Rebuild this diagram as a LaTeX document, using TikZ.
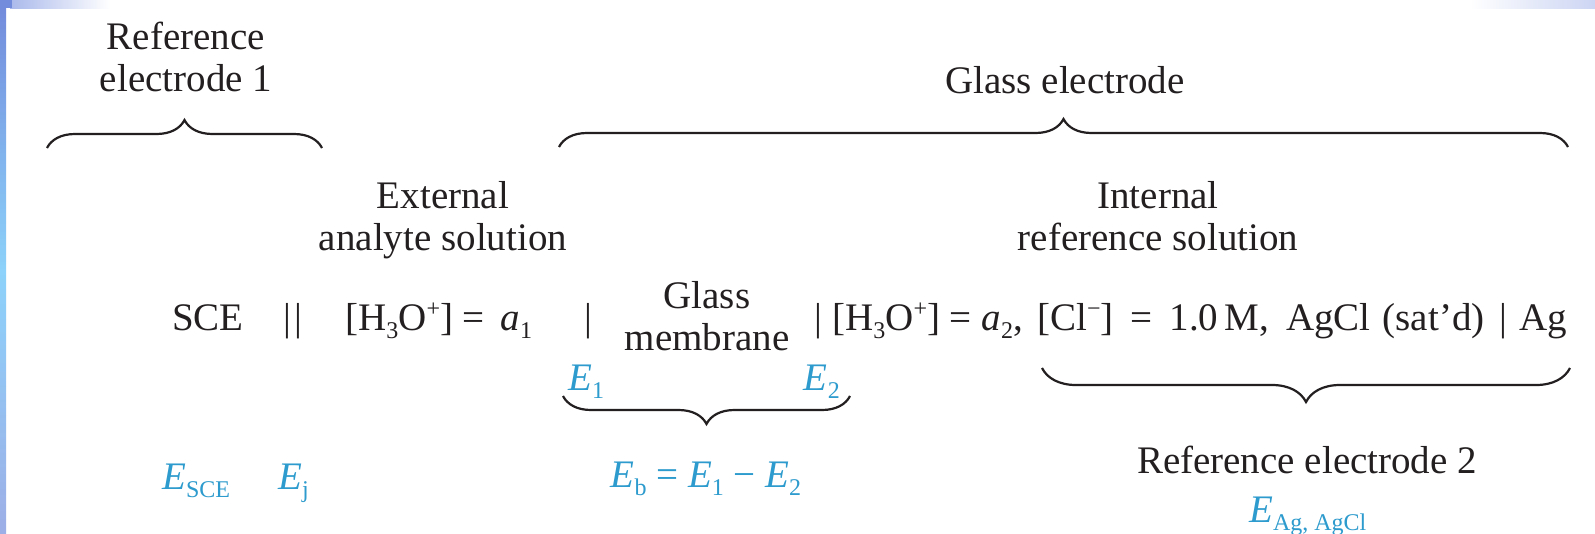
\documentclass[tikz,border=0pt]{standalone}
\usepackage{fontspec}
\setmainfont{Liberation Serif}
\usetikzlibrary{decorations.pathreplacing}
\definecolor{ink}{RGB}{35,31,32}
\definecolor{eblue}{RGB}{45,155,205}
\definecolor{bgblueA}{RGB}{115,140,220}
\definecolor{bgblueB}{RGB}{140,210,250}
\definecolor{bgblueC}{RGB}{170,185,235}
\newcommand{\sbs}[1]{\raisebox{-8pt}{\fontsize{24}{24}\selectfont #1}}
\newcommand{\sps}[1]{\raisebox{14pt}{\fontsize{24}{24}\selectfont #1}}
\begin{document}
\begin{tikzpicture}[x=1pt,y=1pt,
  txt/.style={font=\fontsize{39}{42}\selectfont, text=ink, inner sep=0pt},
  btxt/.style={font=\fontsize{39}{42}\selectfont, text=eblue, inner sep=0pt},
  brc/.style={decorate, decoration={brace, amplitude=#1, aspect=0.5}, line width=2.2pt, draw=ink},
  brc/.default=28pt]
\useasboundingbox (0,0) rectangle (1595,-533);
\fill[white] (0,0) rectangle (1595,-533);
% slide background strips
\shade[left color=bgblueC, right color=white] (10,0) rectangle (110,-8);
\shade[left color=white, right color=bgblueC!60] (1470,0) rectangle (1595,-8);
\fill[bgblueA] (0,0) rectangle (12,-8);
\shade[top color=bgblueA, bottom color=bgblueA!70, middle color=bgblueB] (0,-8) rectangle (6,-533);

% top labels (anchor base = baseline of last line)
\node[txt, align=center, anchor=base] (ref1) at (186,-91) {Reference\\electrode 1};
\node[txt, anchor=base] (glassel) at (1065,-93) {Glass electrode};
\coordinate (b1l) at (47,-148); \coordinate (b1r) at (322,-148);
\coordinate (b2l) at (559,-147); \coordinate (b2r) at (1568,-147);
\draw[brc] (b1l) -- (b1r);
\draw[brc] (b2l) -- (b2r);

\node[txt, align=center, anchor=base] (extsol) at (443,-250) {External\\analyte solution};
\node[txt, align=center, anchor=base] (intsol) at (1158,-250) {Internal\\reference solution};

% cell line
\node[txt, anchor=base west] (sce) at (172,-330) {SCE};
\node[txt, anchor=base] (dbar) at (293,-330) {|\kern3pt|};
\node[txt, anchor=base west] (h1) at (345,-330) {[H\sbs{3}O\sps{+}] =\hspace{6pt} \textit{a}\sbs{1}};
\node[txt, anchor=base] (bar1) at (588,-330) {|};
\node[txt, align=center, anchor=base] (glass) at (707,-350) {Glass\\membrane};
\node[txt, anchor=base] (bar2) at (818,-330) {|};
\node[txt, anchor=base west] (h2) at (832,-330) {[H\sbs{3}O\sps{+}] = \textit{a}\sbs{2},};
\node[txt, anchor=base west] (cl) at (1037,-330) {[Cl\sps{−}]\hspace{17pt}=\hspace{17pt}1.0\,M,\hspace{17pt}AgCl\hspace{12pt}(sat’d)};
\node[txt, anchor=base] (bar3) at (1503,-330) {|};
\node[txt, anchor=base east] (ag) at (1567,-330) {Ag};

% potentials
\node[btxt, anchor=base west] (e1) at (568,-390) {\textit{E}\sbs{1}};
\node[btxt, anchor=base east] (e2) at (840,-390) {\textit{E}\sbs{2}};
\coordinate (b3l) at (563,-396); \coordinate (b3r) at (850,-396);
\draw[brc] (b3r) -- (b3l);
\coordinate (b4l) at (1042,-368); \coordinate (b4r) at (1570,-368);
\draw[brc=34pt] (b4r) -- (b4l);

\node[btxt, anchor=base west] (esce) at (162,-489) {\textit{E}\sbs{SCE}};
\node[btxt, anchor=base west] (ej) at (278,-489) {\textit{E}\sbs{j}};
\node[btxt, anchor=base] (eb) at (706,-487) {\textit{E}\sbs{b} = \textit{E}\sbs{1} − \textit{E}\sbs{2}};
\node[txt, anchor=base] (ref2) at (1307,-473) {Reference electrode 2};
\node[btxt, anchor=base west] (eag) at (1249,-522) {\textit{E}\sbs{Ag, AgCl}};
\end{tikzpicture}
\end{document}
